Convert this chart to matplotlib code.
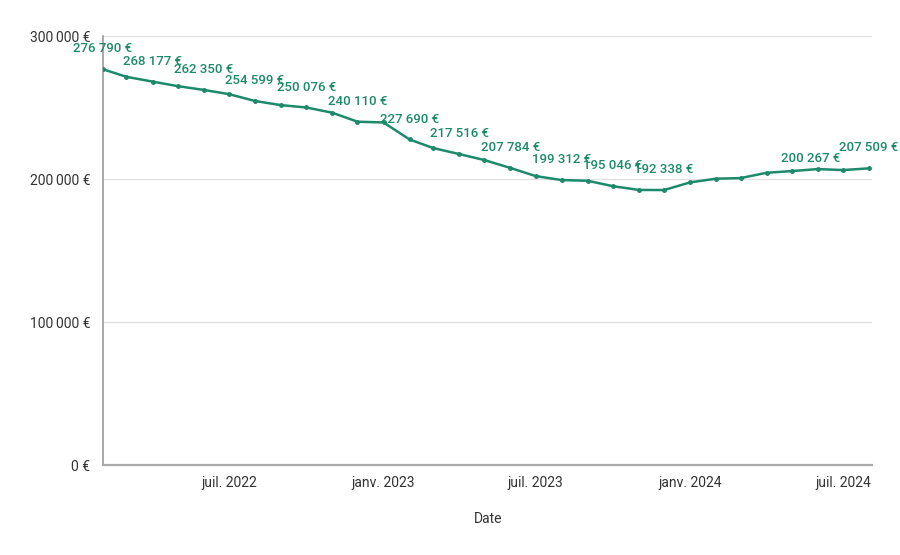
import matplotlib
matplotlib.use('Agg')
import matplotlib.pyplot as plt
import pandas as pd

plt.rcParams['font.family'] = ['Roboto', 'DejaVu Sans']

dates = pd.date_range('2022-02-01', '2024-08-01', freq='MS')
values = [276790, 271500, 268177, 265000, 262350, 259400, 254599, 251700,
          250076, 246400, 240110, 239600, 227690, 221700, 217516, 213300,
          207784, 202100, 199312, 198800, 195046, 192400, 192338, 197700,
          200267, 200700, 204400, 205600, 207000, 206300, 207509]

# points that carry a value label, with a sideways shift (px) where the label was pushed
label_idx = [0, 2, 4, 6, 8, 10, 12, 14, 16, 18, 20, 22, 24, 30]
label_shift = {24: 94}

ticks = ['2022-07-01', '2023-01-01', '2023-07-01', '2024-01-01', '2024-07-01']
tick_labels = ['juil. 2022', 'janv. 2023', 'juil. 2023', 'janv. 2024', 'juil. 2024']
yticks = [0, 100000, 200000, 300000]

green = '#1d8a6b'


def euro(v):
    s = f'{v:,}'.replace(',', '\u202f')
    return s + '\u00a0€'


def main():
    fig = plt.figure(figsize=(9, 5.55), dpi=100)
    ax = fig.add_axes([0.1144, 0.162, 0.855, 0.773])

    ax.plot(dates, values, color=green, lw=1.8, marker='o', ms=2.5, zorder=3)

    for i in label_idx:
        ax.annotate(euro(values[i]), (dates[i], values[i]),
                    xytext=(label_shift.get(i, 0) * 0.72, 10), textcoords='offset points',
                    ha='center', va='bottom', fontsize=9.5, fontweight='medium',
                    color=green, zorder=4)

    ax.set_ylim(0, 300000)
    ax.set_xlim(dates[0], pd.Timestamp('2024-08-05'))
    ax.set_yticks(yticks)
    ax.set_yticklabels([euro(v) for v in yticks])
    ax.set_xticks(pd.to_datetime(ticks))
    ax.set_xticklabels(tick_labels)
    ax.tick_params(length=0, labelsize=10, colors='#333333', pad=8)
    ax.tick_params(axis='y', pad=9)

    ax.grid(axis='y', color='#e2e2e2', lw=1)
    ax.set_axisbelow(True)
    for s in ['top', 'right']:
        ax.spines[s].set_visible(False)
    ax.spines['left'].set_color('#999999')
    ax.spines['bottom'].set_color('#aaaaaa')
    ax.spines['left'].set_linewidth(1.2)
    ax.spines['bottom'].set_linewidth(1.6)

    ax.set_xlabel('Date', fontsize=10, color='#333333', labelpad=16)

    fig.savefig('out.png', dpi=100)


if __name__ == '__main__':
    main()
